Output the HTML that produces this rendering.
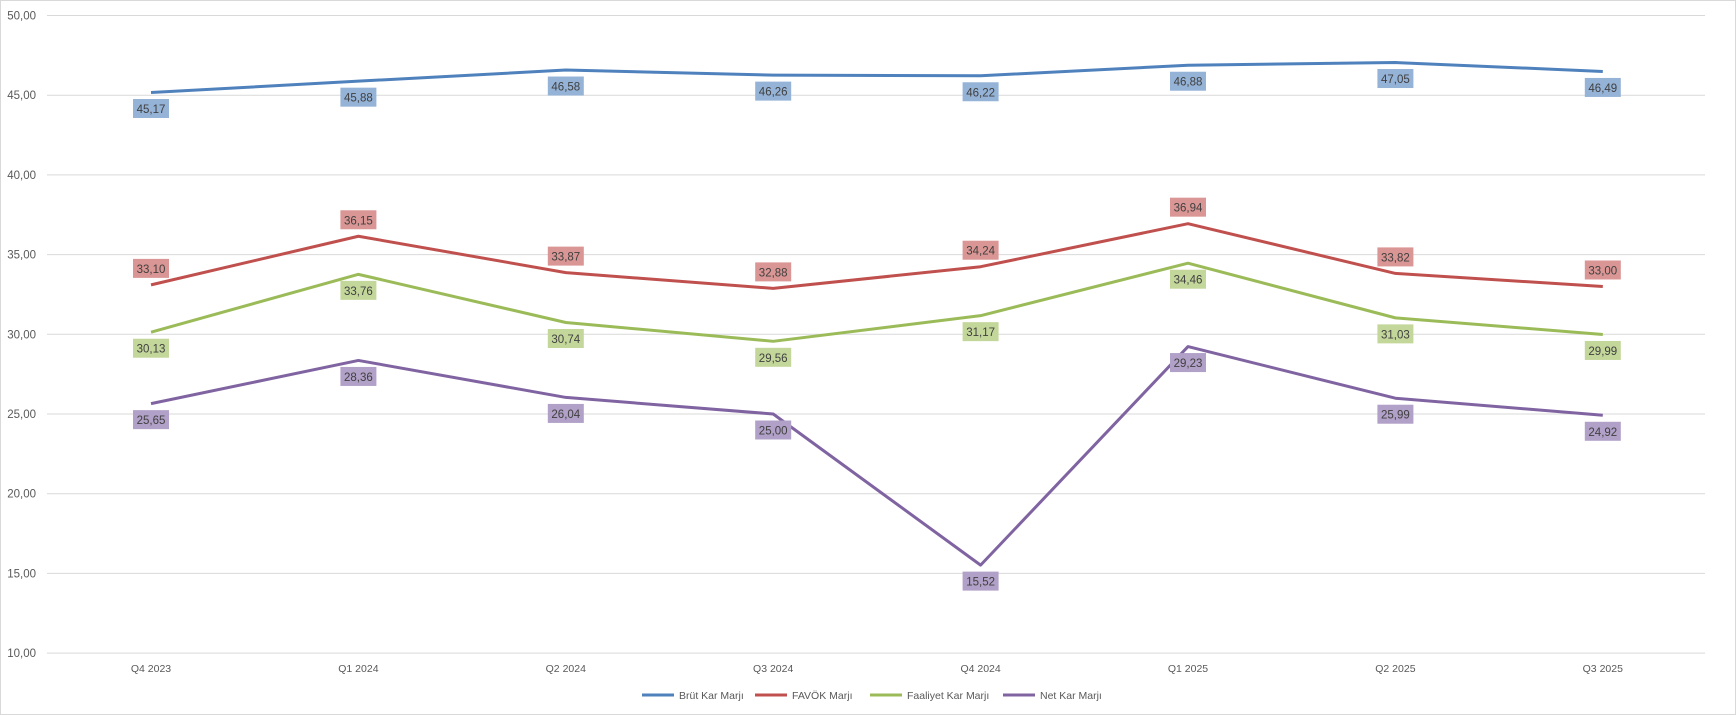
<!DOCTYPE html>
<html><head><meta charset="utf-8"><style>
html,body{margin:0;padding:0;background:#fff}
svg{display:block}
text{font-family:"Liberation Sans",sans-serif}
</style></head><body>
<svg id="s" width="1736" height="715" xmlns="http://www.w3.org/2000/svg">
<rect x="0.5" y="0.5" width="1735" height="714" fill="#fff" stroke="#d9d9d9"/>
</svg>
<script>
var s=document.getElementById('s'),h='';
function Y(v){return 15.5+(50-v)*15.94;}
function X(i){return 151+i*207.4;}
for(var v=10;v<=50;v+=5){var y=Y(v);h+='<line x1="47" x2="1705" y1="'+y+'" y2="'+y+'" stroke="#d9d9d9" stroke-width="1"/>';
h+='<text x="36" y="'+(y+4)+'" font-size="11.5" fill="#595959" text-anchor="end">'+v+',00</text>';}
var cats=['Q4 2023','Q1 2024','Q2 2024','Q3 2024','Q4 2024','Q1 2025','Q2 2025','Q3 2025'];
cats.forEach(function(c,i){h+='<text x="'+X(i)+'" y="672" font-size="10.5" fill="#595959" text-anchor="middle">'+c+'</text>';});
var S=[
['#4F81BD','#95B3D7',[45.17,45.88,46.58,46.26,46.22,46.88,47.05,46.49],1,'Brüt Kar Marjı'],
['#C0504D','#DA9694',[33.10,36.15,33.87,32.88,34.24,36.94,33.82,33.00],-1,'FAVÖK Marjı'],
['#9BBB59','#C4D79B',[30.13,33.76,30.74,29.56,31.17,34.46,31.03,29.99],1,'Faaliyet Kar Marjı'],
['#8064A2','#B1A0C7',[25.65,28.36,26.04,25.00,15.52,29.23,25.99,24.92],1,'Net Kar Marjı']];
S.forEach(function(se){var p=se[2].map(function(v,i){return X(i)+','+Y(v)}).join(' ');
h+='<polyline points="'+p+'" fill="none" stroke="'+se[0]+'" stroke-width="3" stroke-linejoin="round"/>';
se[2].forEach(function(v,i){var y=Y(v),top=se[3]>0?y+6.5:y-26;var x=X(i);
h+='<rect x="'+(x-18)+'" y="'+top+'" width="36" height="19" fill="'+se[1]+'"/>';
h+='<text x="'+x+'" y="'+(top+14)+'" font-size="11.5" fill="#404040" text-anchor="middle">'+v.toFixed(2).replace('.',',')+'</text>';});});
var lx=[642,755,870,1003];
S.forEach(function(se,i){h+='<line x1="'+lx[i]+'" x2="'+(lx[i]+32)+'" y1="695" y2="695" stroke="'+se[0]+'" stroke-width="3"/>';
h+='<text x="'+(lx[i]+37)+'" y="699" font-size="10.5" fill="#595959">'+se[4]+'</text>';});
s.innerHTML+=h;
</script>
</body></html>
